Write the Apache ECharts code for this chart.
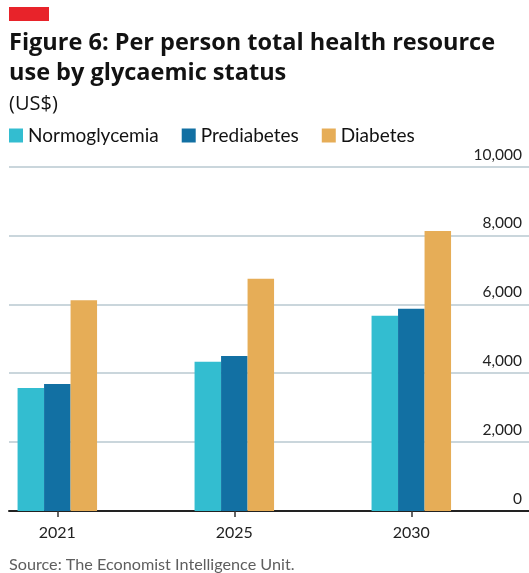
<!DOCTYPE html>
<html>
<head>
<meta charset="utf-8">
<script src="https://cdn.jsdelivr.net/npm/echarts@6/dist/echarts.min.js"></script>
<style>
  html, body { margin: 0; padding: 0; background: #fff; }
  #chart { width: 529px; height: 573px; }
</style>
</head>
<body>
<div id="chart"></div>
<script>
// Per person total health resource use (US$) by glycaemic status
const years = ['2021', '2025', '2030'];
const normoglycemia = [3570, 4330, 5670];
const prediabetes = [3690, 4500, 5870];
const diabetes = [6120, 6740, 8130];
const yTicks = [0, 2000, 4000, 6000, 8000, 10000];

const FONT = 'Lato, "Noto Sans", sans-serif';
const TITLE_FONT = '"Open Sans", Lato, sans-serif';
const COLORS = ['#33bdd0', '#1270a3', '#e6ad57'];

// Years sit at positions 0, 1, 2 of a numeric x scale; the plot runs a little
// past them on both sides so the groups are spaced evenly across the frame.
const xIdx = years.map((_, i) => i);
const pairs = vals => vals.map((v, i) => [xIdx[i], v]);

const chart = echarts.init(document.getElementById('chart'), null, { renderer: 'canvas' });

chart.setOption({
  animation: false,
  textStyle: { fontFamily: FONT },
  graphic: [
    { type: 'rect', left: 9, top: 7, shape: { width: 40, height: 14 }, style: { fill: '#e8232a' } }
  ],
  title: [
    {
      text: 'Figure 6: Per person total health resource\nuse by glycaemic status',
      left: 4, top: 23,
      textStyle: { fontFamily: TITLE_FONT, fontSize: 23.5, fontWeight: 'bold', color: '#121212', lineHeight: 30.5 }
    },
    {
      text: '(US$)',
      left: 4, top: 89,
      textStyle: { fontFamily: TITLE_FONT, fontSize: 20, fontWeight: 'normal', color: '#121212' }
    },
    {
      text: 'Source: The Economist Intelligence Unit.',
      left: 4, top: 552,
      textStyle: { fontFamily: FONT, fontSize: 16.2, fontWeight: 'normal', color: '#5e5e5e' }
    }
  ],
  legend: {
    left: 9, top: 126, padding: 0,
    icon: 'rect', itemWidth: 14, itemHeight: 14, itemGap: 23,
    textStyle: { fontFamily: FONT, fontSize: 19, color: '#121212' },
    data: ['Normoglycemia', 'Prediabetes', 'Diabetes']
  },
  grid: { left: 9, right: 0, top: 166.5, height: 344.5 },
  xAxis: {
    type: 'value', min: -0.273, max: 2.665,
    axisLine: { show: true, onZero: false, lineStyle: { color: '#222', width: 2 } },
    axisTick: { show: true, length: 6, customValues: xIdx, lineStyle: { color: '#333', width: 1.5 } },
    axisLabel: {
      fontFamily: FONT, fontSize: 16, color: '#222', margin: 14,
      customValues: xIdx,
      formatter: v => years[Math.round(v)]
    },
    splitLine: { show: false }
  },
  yAxis: {
    type: 'value', position: 'right', min: 0, max: 10000, interval: 2000,
    axisLine: { show: false }, axisTick: { show: false },
    splitLine: { show: true, lineStyle: { color: '#b9c8d1', width: 1.5 } },
    axisLabel: {
      inside: true, margin: 7, verticalAlign: 'bottom', padding: [0, 0, 4, 0],
      fontFamily: FONT, fontSize: 15.5, color: '#222',
      customValues: yTicks,
      formatter: v => v.toLocaleString('en-US')
    }
  },
  series: [
    { name: 'Normoglycemia', type: 'bar', data: pairs(normoglycemia),
      barWidth: 26.5, barGap: '0%', itemStyle: { color: COLORS[0] } },
    { name: 'Prediabetes', type: 'bar', data: pairs(prediabetes),
      barWidth: 26.5, barGap: '0%', itemStyle: { color: COLORS[1] } },
    { name: 'Diabetes', type: 'bar', data: pairs(diabetes),
      barWidth: 26.5, barGap: '0%', itemStyle: { color: COLORS[2] } }
  ]
});
</script>
</body>
</html>
